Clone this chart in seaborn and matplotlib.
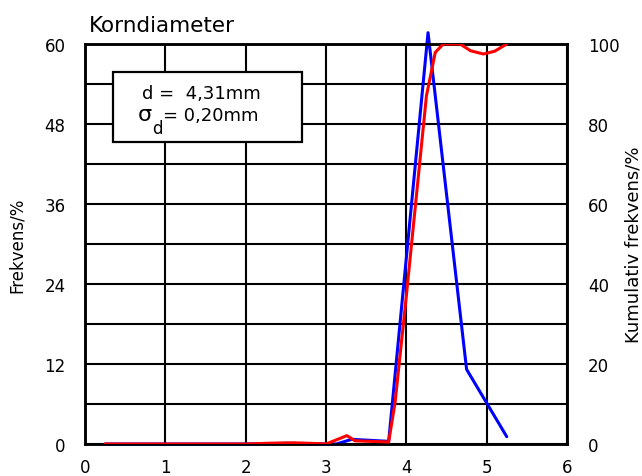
import matplotlib
matplotlib.use('Agg')
import pandas as pd
import seaborn as sns
import matplotlib.pyplot as plt
from matplotlib.patches import Rectangle

# frekvens (venstre akse)
diam_freq = [0.25, 1.0, 2.0, 2.5, 3.0, 3.13, 3.32, 3.78, 4.27, 4.75, 5.25]
freq = [0, 0, 0, 0.1, 0, 0, 0.7, 0.4, 61.7, 11.2, 1.1]

# kumulativ frekvens (højre akse)
diam_cum = [0.25, 1.0, 2.0, 2.3, 2.6, 2.9, 3.0, 3.15, 3.26, 3.36, 3.78, 3.86,
            4.0, 4.25, 4.36, 4.46, 4.67, 4.8, 4.96, 5.1, 5.25]
cum = [0, 0, 0, 0.2, 0.3, 0.1, 0, 1.2, 2.1, 0.8, 0.5, 10.4,
       37, 87, 97.9, 100, 100, 98.3, 97.5, 98.2, 100]

x_ticks = [0, 1, 2, 3, 4, 5, 6]
left_ticks = [0, 12, 24, 36, 48, 60]
right_ticks = [0, 20, 40, 60, 80, 100]

df_freq = pd.DataFrame({'d': diam_freq, 'f': freq})
df_cum = pd.DataFrame({'d': diam_cum, 'c': cum})

sns.set_style('white')
plt.rcParams['font.family'] = ['DejaVu Sans']
plt.rcParams['text.color'] = 'black'
plt.rcParams['axes.labelcolor'] = 'black'
plt.rcParams['xtick.color'] = 'black'
plt.rcParams['ytick.color'] = 'black'

fig = plt.figure(figsize=(6.42, 4.77), dpi=100)
ax = fig.add_axes([85 / 642, 32 / 477, 482 / 642, 400 / 477])
ax2 = ax.twinx()

sns.lineplot(data=df_freq, x='d', y='f', ax=ax, color='#0000FF', lw=2.2, clip_on=False, zorder=5)
sns.lineplot(data=df_cum, x='d', y='c', ax=ax2, color='#FF0000', lw=2.2, zorder=5)

ax.set_xlim(0, 6)
ax.set_ylim(0, 60)
ax2.set_ylim(0, 100)
ax.set_xticks(x_ticks)
ax.set_yticks(left_ticks)
ax.set_yticks(range(6, 60, 12), minor=True)
ax2.set_yticks(right_ticks)
ax.grid(which='both', color='black', lw=1.5)
ax.tick_params(axis='both', which='both', length=0, labelsize=12)
ax.tick_params(axis='x', pad=10)
ax.tick_params(axis='y', pad=14)
ax2.tick_params(axis='y', length=0, labelsize=12, pad=15)
for a in (ax, ax2):
    for s in a.spines.values():
        s.set_color('black')
        s.set_linewidth(1.8)

ax.set_xlabel('')
ax.set_ylabel('Frekvens/%', fontsize=12)
ax.yaxis.set_label_coords(-0.122, 0.5)
ax2.set_ylabel('Kumulativ frekvens/%', fontsize=13)
ax2.yaxis.set_label_coords(1.12, 0.5)

# tekstboks
ax.add_patch(Rectangle((0.35, 45.3), 2.35, 10.5, facecolor='white', edgecolor='black',
                       lw=1.6, zorder=4))
ax.text(0.706, 51.9, 'd =  4,31mm', fontsize=13, va='baseline', zorder=6)
ax.text(0.66, 48.55, 'σ', fontsize=16, va='baseline', zorder=6)
ax.text(0.84, 46.65, 'd', fontsize=12, va='baseline', zorder=6)
ax.text(0.975, 48.55, '= 0,20mm', fontsize=13, va='baseline', zorder=6)

fig.text(89 / 642, (477 - 32) / 477, 'Korndiameter', fontsize=15.5, va='baseline')

fig.savefig('out.png', dpi=100)
